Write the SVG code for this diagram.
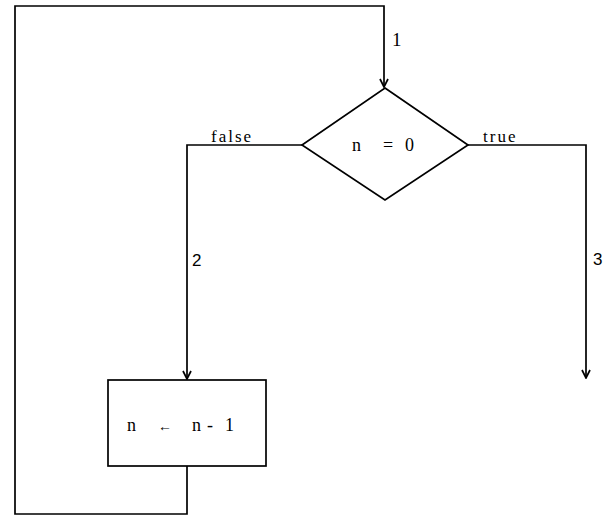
<svg xmlns="http://www.w3.org/2000/svg" width="612" height="524" viewBox="0 0 612 524">
<defs>
<style>
.ln{fill:none;stroke:#000;stroke-width:1.7}
.sh{fill:#fff;stroke:#000;stroke-width:1.7}
.t{font-family:"Liberation Sans",Arial,sans-serif;font-size:17px;fill:#000}
.s{font-family:"Liberation Serif","Times New Roman",serif;font-size:18px;fill:#000}
.lb{font-family:"Liberation Serif","Times New Roman",serif;font-size:17px;letter-spacing:2px;fill:#000}
</style>
<marker id="ah" viewBox="0 0 10 10" refX="9" refY="5" markerWidth="10" markerHeight="10" markerUnits="userSpaceOnUse" orient="auto">
<path d="M1,1 L9,5 L1,9" fill="none" stroke="#000" stroke-width="1.7"/>
</marker>
</defs>
<rect width="612" height="524" fill="#fff"/>
<g id="connectors">
<path class="ln" d="M187,466 V514 H15 V6 H384 V87" marker-end="url(#ah)"/>
<path class="ln" d="M302,145 H187 V379" marker-end="url(#ah)"/>
<path class="ln" d="M468,145 H586 V378" marker-end="url(#ah)"/>
<text class="s" x="392" y="46" style="font-size:19px">1</text>
<text class="lb" x="211" y="142">false</text>
<text class="lb" x="483" y="142">true</text>
<text class="t" x="192" y="266">2</text>
<text class="t" x="593" y="265">3</text>
</g>
<g id="decision">
<polygon class="sh" points="385,88 468,145 385,200 302,145"/>
<text class="s" y="151"><tspan x="352">n</tspan><tspan x="383">=</tspan><tspan x="405">0</tspan></text>
</g>
<g id="process">
<rect class="sh" x="108" y="380" width="158" height="86"/>
<text class="s" y="431"><tspan x="127">n</tspan><tspan x="158" style="font-size:14px">←</tspan><tspan x="192">n</tspan><tspan x="207">-</tspan><tspan x="225">1</tspan></text>
</g>
</svg>
